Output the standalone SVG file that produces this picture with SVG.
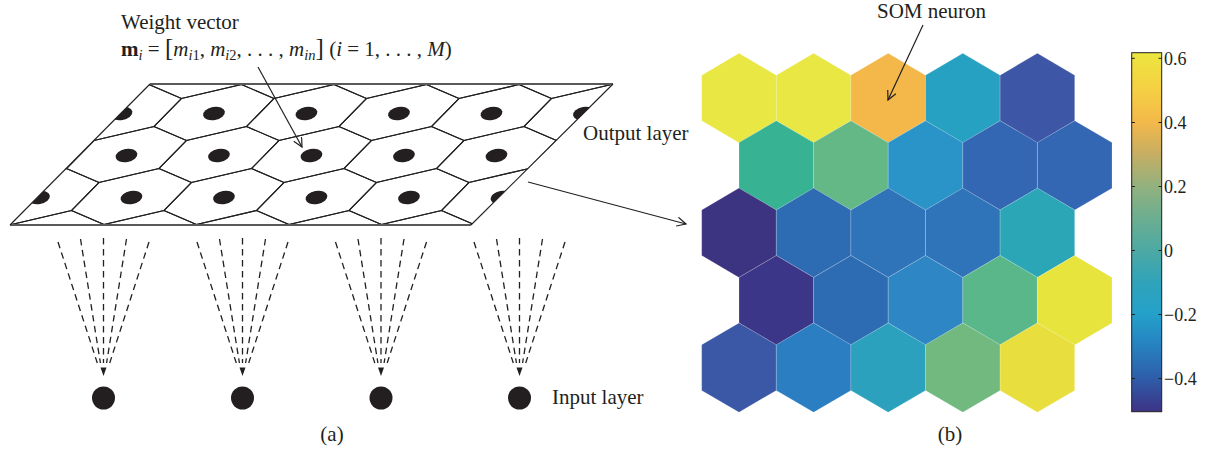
<svg xmlns="http://www.w3.org/2000/svg" xmlns:xlink="http://www.w3.org/1999/xlink" width="1218" height="470" viewBox="0 0 1218 470">
<style>
.t{font-family:"Liberation Serif","Times New Roman",serif;fill:#231f20;font-size:21px}
.tk{font-family:"Liberation Serif","Times New Roman",serif;fill:#231f20;font-size:18px}
.hx{fill:none;stroke:#231f20;stroke-width:1.1}
.dot{fill:#231f20}
.eh{stroke:#58595b;stroke-width:2}
.es{stroke:#231f20;stroke-width:1.1}
.ln{fill:none;stroke:#231f20;stroke-width:1.2}
.dash{stroke:#231f20;stroke-width:1.3;stroke-dasharray:6.5 4.5}
.som{stroke:#ffffff;stroke-opacity:0.3;stroke-width:0.6}
</style>
<defs>
<clipPath id="pg"><path d="M150,84 L613,84 L471,225 L10,225 Z"/></clipPath>
<path id="hx" d="M60,-14 L27.5,-28 L-32.5,-14 L-60,14 L-27.5,28 L32.5,14 Z"/>
<ellipse id="dt" cx="0" cy="0" rx="11" ry="6.5" transform="rotate(-10)"/>
<path id="sh" d="M0,-44.7 L37.3,-22.8 L37.3,22.8 L0,44.7 L-37.3,22.8 L-37.3,-22.8 Z"/>
<marker id="open" markerWidth="14" markerHeight="14" refX="10" refY="5" orient="auto" markerUnits="userSpaceOnUse">
<path d="M1,0.5 L10,5 L1,9.5" fill="none" stroke="#231f20" stroke-width="1.2"/>
</marker>
<g id="fan">
<line class="dash" x1="-45.5" y1="242" x2="-6.2" y2="363"/>
<line class="dash" x1="-23" y1="239" x2="-3.1" y2="363"/>
<line class="dash" x1="0" y1="238" x2="0" y2="363"/>
<line class="dash" x1="23" y1="239" x2="3.1" y2="363"/>
<line class="dash" x1="45.5" y1="242" x2="6.2" y2="363"/>
<polygon points="-3,367.5 3,367.5 0,376" fill="#231f20"/>
</g>
<linearGradient id="cb" x1="0" y1="0" x2="0" y2="1">
<stop offset="0" stop-color="#ECE63E"/>
<stop offset="0.1" stop-color="#F5D043"/>
<stop offset="0.195" stop-color="#F3B84A"/>
<stop offset="0.28" stop-color="#C7AE62"/>
<stop offset="0.373" stop-color="#92B17F"/>
<stop offset="0.46" stop-color="#6CAE90"/>
<stop offset="0.55" stop-color="#4DA9A3"/>
<stop offset="0.64" stop-color="#30A3BA"/>
<stop offset="0.73" stop-color="#24A0CA"/>
<stop offset="0.82" stop-color="#2780BF"/>
<stop offset="0.906" stop-color="#2E5EA9"/>
<stop offset="1" stop-color="#3D3386"/>
</linearGradient>
</defs>
<rect width="1218" height="470" fill="#ffffff"/>

<g id="output-layer">
<g clip-path="url(#pg)">
<g class="hx">
<use href="#hx" x="116.5" y="70.5"/><use href="#hx" x="209" y="70.5"/><use href="#hx" x="301.5" y="70.5"/><use href="#hx" x="394" y="70.5"/><use href="#hx" x="486.5" y="70.5"/><use href="#hx" x="579" y="70.5"/><use href="#hx" x="671.5" y="70.5"/>
<use href="#hx" x="121.5" y="112.5"/><use href="#hx" x="214" y="112.5"/><use href="#hx" x="306.5" y="112.5"/><use href="#hx" x="399" y="112.5"/><use href="#hx" x="491.5" y="112.5"/><use href="#hx" x="584" y="112.5"/>
<use href="#hx" x="34" y="154.5"/><use href="#hx" x="126.5" y="154.5"/><use href="#hx" x="219" y="154.5"/><use href="#hx" x="311.5" y="154.5"/><use href="#hx" x="404" y="154.5"/><use href="#hx" x="496.5" y="154.5"/><use href="#hx" x="589" y="154.5"/>
<use href="#hx" x="39" y="196.5"/><use href="#hx" x="131.5" y="196.5"/><use href="#hx" x="224" y="196.5"/><use href="#hx" x="316.5" y="196.5"/><use href="#hx" x="409" y="196.5"/><use href="#hx" x="501.5" y="196.5"/>
<use href="#hx" x="44" y="238.5"/><use href="#hx" x="136.5" y="238.5"/><use href="#hx" x="229" y="238.5"/><use href="#hx" x="321.5" y="238.5"/><use href="#hx" x="414" y="238.5"/><use href="#hx" x="506.5" y="238.5"/>
</g>
<g class="dot">
<use href="#dt" x="121.5" y="113.5"/><use href="#dt" x="214" y="113.5"/><use href="#dt" x="306.5" y="113.5"/><use href="#dt" x="399" y="113.5"/><use href="#dt" x="491.5" y="113.5"/><use href="#dt" x="584" y="113.5"/>
<use href="#dt" x="126.5" y="155.5"/><use href="#dt" x="219" y="155.5"/><use href="#dt" x="311.5" y="155.5"/><use href="#dt" x="404" y="155.5"/><use href="#dt" x="496.5" y="155.5"/>
<use href="#dt" x="39" y="197.5"/><use href="#dt" x="131.5" y="197.5"/><use href="#dt" x="224" y="197.5"/><use href="#dt" x="316.5" y="197.5"/><use href="#dt" x="409" y="197.5"/><use href="#dt" x="501.5" y="197.5"/>
</g>
</g>
<line class="eh" x1="150" y1="84" x2="613" y2="84"/>
<line class="eh" x1="10" y1="225" x2="471" y2="225"/>
<line class="es" x1="150" y1="84" x2="10" y2="225"/>
<line class="es" x1="613" y1="84" x2="471" y2="225"/>
<text class="t" x="583" y="140">Output layer</text>
</g>

<g id="weight-label">
<text class="t" x="121" y="29">Weight vector</text>
<text class="t" x="121" y="56"><tspan font-weight="bold">m</tspan><tspan font-style="italic" font-size="14.5" dy="4">i</tspan><tspan dy="-4"> = </tspan><tspan font-size="25">[</tspan><tspan font-style="italic">m</tspan><tspan font-style="italic" font-size="14.5" dy="4">i</tspan><tspan font-size="14.5">1</tspan><tspan dy="-4">, </tspan><tspan font-style="italic">m</tspan><tspan font-style="italic" font-size="14.5" dy="4">i</tspan><tspan font-size="14.5">2</tspan><tspan dy="-4">, . . . , </tspan><tspan font-style="italic">m</tspan><tspan font-style="italic" font-size="14.5" dy="4">in</tspan><tspan font-size="25" dy="-4">]</tspan><tspan> (</tspan><tspan font-style="italic">i</tspan><tspan> = 1, . . . , </tspan><tspan font-style="italic">M</tspan><tspan>)</tspan></text>
</g>

<g id="input-layer">
<circle cx="103.5" cy="398" r="11.5" fill="#231f20"/>
<circle cx="242.5" cy="398" r="11.5" fill="#231f20"/>
<circle cx="381" cy="398" r="11.5" fill="#231f20"/>
<circle cx="519.5" cy="398" r="11.5" fill="#231f20"/>
<text class="t" x="552" y="404">Input layer</text>
</g>

<g id="som-map">
<g class="som">
<use href="#sh" x="739" y="98" fill="#E9E744"/>
<use href="#sh" x="813.6" y="98" fill="#E9E744"/>
<use href="#sh" x="888.2" y="98" fill="#F3B849"/>
<use href="#sh" x="962.8" y="98" fill="#26A1C1"/>
<use href="#sh" x="1037.4" y="98" fill="#3D56A5"/>
<use href="#sh" x="776.3" y="165.4" fill="#37B394"/>
<use href="#sh" x="850.9" y="165.4" fill="#64B886"/>
<use href="#sh" x="925.5" y="165.4" fill="#2A93C8"/>
<use href="#sh" x="1000.1" y="165.4" fill="#3467B3"/>
<use href="#sh" x="1074.7" y="165.4" fill="#3467B3"/>
<use href="#sh" x="739" y="232.8" fill="#3C3480"/>
<use href="#sh" x="813.6" y="232.8" fill="#2D6CB3"/>
<use href="#sh" x="888.2" y="232.8" fill="#2F74B9"/>
<use href="#sh" x="962.8" y="232.8" fill="#2F74B9"/>
<use href="#sh" x="1037.4" y="232.8" fill="#2BA6B7"/>
<use href="#sh" x="776.3" y="300.2" fill="#3C3688"/>
<use href="#sh" x="850.9" y="300.2" fill="#2D6CB3"/>
<use href="#sh" x="925.5" y="300.2" fill="#2E86C4"/>
<use href="#sh" x="1000.1" y="300.2" fill="#5AB78A"/>
<use href="#sh" x="1074.7" y="300.2" fill="#E8E43E"/>
<use href="#sh" x="739" y="367.6" fill="#3A58A6"/>
<use href="#sh" x="813.6" y="367.6" fill="#2A7EC1"/>
<use href="#sh" x="888.2" y="367.6" fill="#2BA1BD"/>
<use href="#sh" x="962.8" y="367.6" fill="#71B97F"/>
<use href="#sh" x="1037.4" y="367.6" fill="#E8DF3E"/>
</g>
<text class="t" x="877" y="18">SOM neuron</text>
</g>

<g id="colorbar">
<rect x="1131.7" y="52.7" width="30" height="359" fill="url(#cb)" stroke="#231f20" stroke-width="1"/>
<g stroke="#231f20" stroke-width="1">
<line x1="1158.5" y1="58.3" x2="1161.7" y2="58.3"/>
<line x1="1158.5" y1="122.5" x2="1161.7" y2="122.5"/>
<line x1="1158.5" y1="186.5" x2="1161.7" y2="186.5"/>
<line x1="1158.5" y1="250.5" x2="1161.7" y2="250.5"/>
<line x1="1158.5" y1="314.5" x2="1161.7" y2="314.5"/>
<line x1="1158.5" y1="378.5" x2="1161.7" y2="378.5"/>
<line x1="1131.7" y1="58.3" x2="1134.9" y2="58.3"/>
<line x1="1131.7" y1="122.5" x2="1134.9" y2="122.5"/>
<line x1="1131.7" y1="186.5" x2="1134.9" y2="186.5"/>
<line x1="1131.7" y1="250.5" x2="1134.9" y2="250.5"/>
<line x1="1131.7" y1="314.5" x2="1134.9" y2="314.5"/>
<line x1="1131.7" y1="378.5" x2="1134.9" y2="378.5"/>
</g>
<text class="tk" x="1164" y="64.5">0.6</text>
<text class="tk" x="1164" y="128.7">0.4</text>
<text class="tk" x="1164" y="192.7">0.2</text>
<text class="tk" x="1164" y="256.7">0</text>
<text class="tk" x="1164" y="320.7">−0.2</text>
<text class="tk" x="1164" y="384.7">−0.4</text>
</g>

<g id="captions">
<text class="t" x="332" y="441" text-anchor="middle">(a)</text>
<text class="t" x="950" y="441" text-anchor="middle">(b)</text>
</g>

<g id="connectors">
<line class="ln" x1="258" y1="67" x2="302" y2="147" marker-end="url(#open)"/>
<line class="ln" x1="528" y1="182" x2="686" y2="224" marker-end="url(#open)"/>
<line class="ln" x1="923" y1="25" x2="888" y2="100" marker-end="url(#open)"/>
<use href="#fan" x="103.5" y="0"/>
<use href="#fan" x="242.5" y="0"/>
<use href="#fan" x="381" y="0"/>
<use href="#fan" x="519.5" y="0"/>
</g>
</svg>
